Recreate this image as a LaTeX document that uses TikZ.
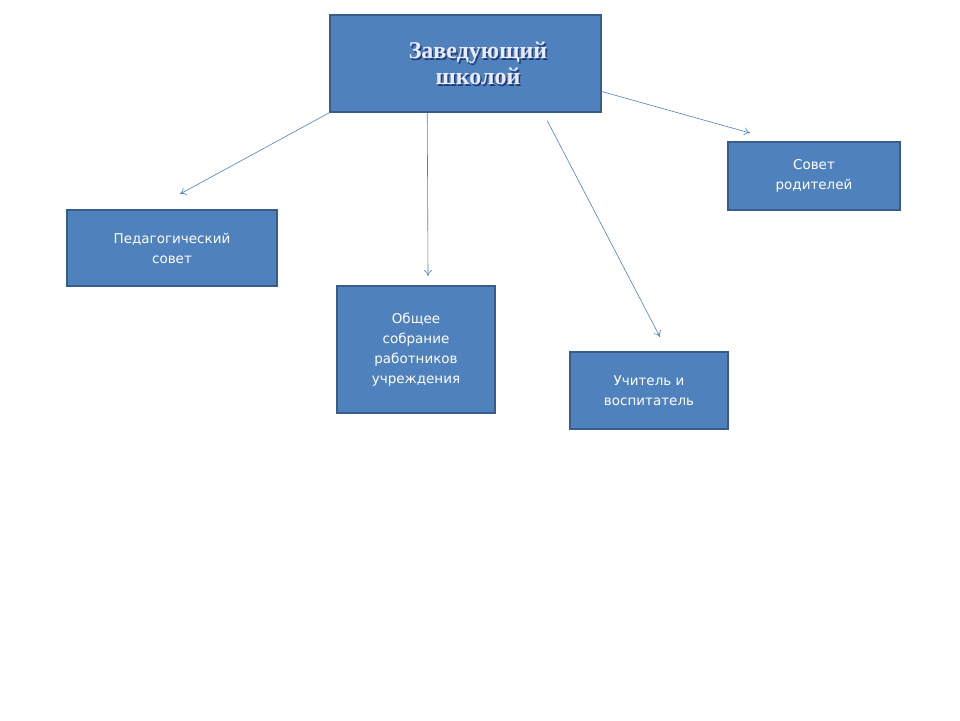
\documentclass[tikz,border=0pt]{standalone}
\usepackage{fontspec}
\usetikzlibrary{arrows.meta,calc}
\setmainfont{DejaVu Sans}
\newfontfamily\serifb{Liberation Serif}
\definecolor{boxfill}{HTML}{4F81BD}
\definecolor{boxline}{HTML}{385D8A}
\definecolor{arr}{HTML}{4F81BD}
\definecolor{shadowc}{HTML}{1F3F7A}
\begin{document}
\begin{tikzpicture}[x=1pt,y=-1pt,
  box/.style={draw=boxline,line width=1.5pt,fill=boxfill,text=white,align=center,inner sep=0pt,font=\fontsize{13.5}{20}\selectfont},
  con/.style={draw=arr,line width=0.6pt,-{To[length=6pt,width=8pt]}}]
\useasboundingbox (0,0) rectangle (960,720);
\fill[white] (0,0) rectangle (960,720);
\node[box,minimum width=271pt,minimum height=97pt] (top) at (465.5,63.5) {};
\node[text=shadowc,font=\serifb\bfseries\fontsize{24}{26}\selectfont,align=center] at (479.5,65) {Заведующий\\школой};
\node[text=blue!8,font=\serifb\bfseries\fontsize{24}{26}\selectfont,align=center] (tt) at (478,63.5) {Заведующий\\школой};
\node[box,minimum width=210pt,minimum height=76pt] (ped) at (172,248) {Педагогический\\совет};
\node[box,minimum width=158pt,minimum height=127pt] (obs) at (416,349.5) {Общее\\собрание\\работников\\учреждения};
\node[box,minimum width=158pt,minimum height=77pt] (uch) at (649,390.5) {Учитель  и\\воспитатель};
\node[box,minimum width=172pt,minimum height=68pt] (sov) at (814,176) {Совет\\родителей};
\coordinate (e1) at (180,194);
\coordinate (e2) at (428,276);
\coordinate (e3) at (660,337);
\coordinate (e4) at (750,133);
\draw[con] (top.south west) -- (e1);
\draw[con] ($(top.south west)+(98,0)$) -- (e2);
\draw[con] ($(top.south west)+(218,8)$) -- (e3);
\draw[con] ($(top.east)+(0,28)$) -- (e4);
\end{tikzpicture}
\end{document}
